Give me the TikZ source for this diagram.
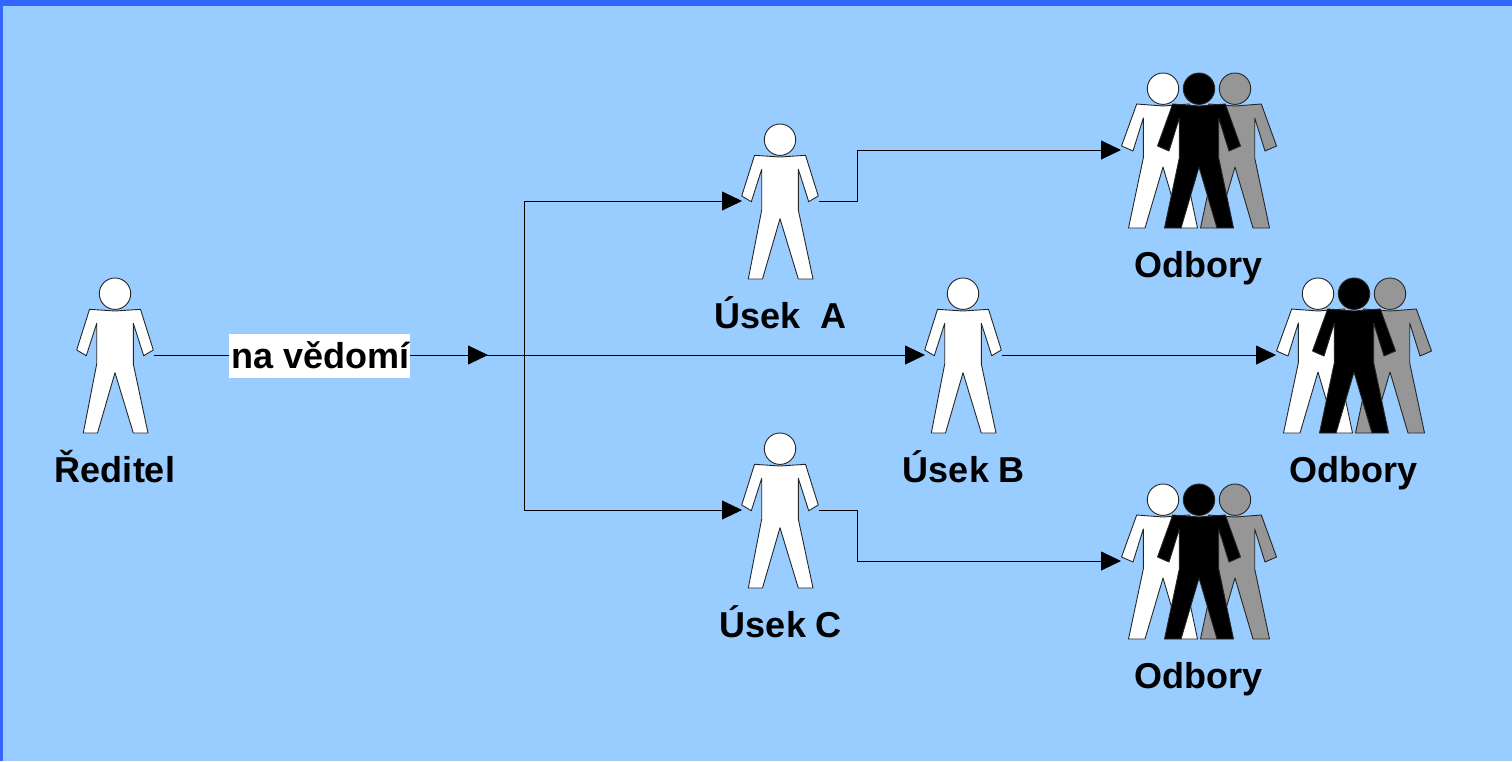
\documentclass[tikz,border=0pt]{standalone}
\usepackage{fontspec}
\setmainfont{Liberation Sans}
\usetikzlibrary{arrows.meta,calc}
\tikzset{
  x=1pt,y=-1pt,
  conn/.style={draw=black,line width=0.8pt},
  tipped/.style={conn,-{Triangle[length=20pt,width=19pt]}},
  lbl/.style={anchor=base,inner sep=0pt,font=\fontsize{36}{40}\selectfont\bfseries},
  figline/.style={draw=black!85,line width=0.9pt,line join=round},
  pics/person/.style={code={
    \coordinate (-in) at (-38,77);
    \coordinate (-out) at (39,77);
    \draw[fill=#1,figline]
      (-25.5,31.3) -- (0,33) -- (25.5,31.3) -- (38.3,72) -- (28.7,77.7)
      -- (18.3,45.3) -- (18.3,86) -- (33,155) -- (18.3,155) -- (0,94.7)
      -- (-17.5,155) -- (-31.7,155) -- (-18.3,86) -- (-18.3,45.3)
      -- (-28.7,77.7) -- (-38.3,72) -- cycle;
    \draw[fill=#1,figline] (0,15.7) circle[radius=15.7];
  }},
  pics/member/.style={code={
    \draw[fill=#1,figline]
      (-26.3,31) -- (0,33) -- (26.3,31) -- (41.5,73) -- (30,78)
      -- (19.7,45) -- (19.7,85) -- (34.5,155) -- (18,155) -- (0,94)
      -- (-18,155) -- (-34.5,155) -- (-19.7,85) -- (-19.7,45)
      -- (-30,78) -- (-41.5,73) -- cycle;
    \draw[fill=#1,figline] (0,15.7) circle[radius=15.7];
  }},
  pics/crowd/.style={code={
    \pic at (-36,0) {member=white};
    \pic at (36,0) {member={crowdgray}};
    \pic at (0,0) {member=black};
    \coordinate (-in) at (-78,77);
    \coordinate (-out) at (78,77);
  }},
}
\definecolor{sky}{HTML}{99CCFF}
\definecolor{rim}{HTML}{3366FF}
\definecolor{crowdgray}{HTML}{969696}
\begin{document}
\begin{tikzpicture}
\useasboundingbox (0,0) rectangle (1512,761);
\fill[rim] (0,0) rectangle (1512,761);
\fill[sky] (3,6) rectangle (1512,761);

\pic (red) at (115,278) {person=white};
\pic (ua) at (780,124) {person=white};
\pic (ub) at (963,278) {person=white};
\pic (uc) at (780,433) {person=white};
\pic (oa) at (1199,73) {crowd};
\pic (ob) at (1354,278) {crowd};
\pic (oc) at (1199,484) {crowd};

\coordinate (j) at (524,355);
\coordinate (t1) at (488,355);
\coordinate (t0) at (453,355);

\draw[tipped] (red-out) -- (t1);
\draw[tipped] (t0) -- (ub-in);
\draw[tipped] (j) -- (j |- ua-in) -- (ua-in);
\draw[tipped] (j) -- (j |- uc-in) -- (uc-in);
\draw[tipped] (ua-out) -| (857,150) -- (oa-in);
\draw[tipped] (ub-out) -- (ob-in);
\draw[tipped] (uc-out) -| (857,561) -- (oc-in);

\node[lbl,fill=white,anchor=center,minimum width=181pt,minimum height=44pt,
      text depth=0pt] (ved) at (319.5,356) {};
\node[lbl] (vedt) at (320.5,368) {na vědomí};
\node[lbl] (tr) at (115,482) {Ředitel};
\node[lbl] (ta) at (780.5,328) {Úsek\ \ A};
\node[lbl] (tb) at (964,482) {Úsek B};
\node[lbl] (tc) at (781,637) {Úsek C};
\node[lbl] (toa) at (1198,277) {Odbory};
\node[lbl] (tob) at (1353,482) {Odbory};
\node[lbl] (toc) at (1198,688) {Odbory};
\end{tikzpicture}
\end{document}
